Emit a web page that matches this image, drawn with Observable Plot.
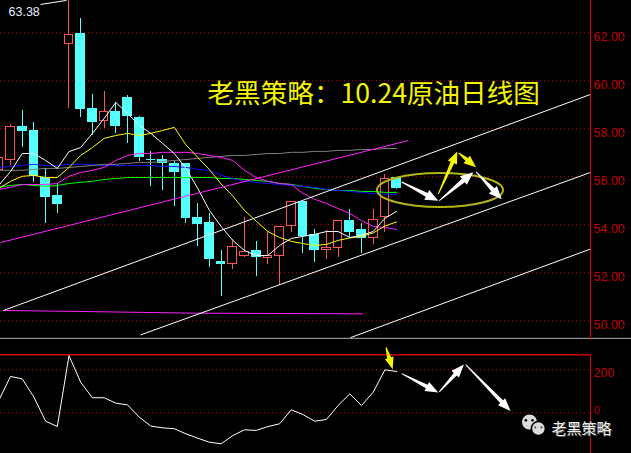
<!DOCTYPE html>
<html><head><meta charset="utf-8">
<script src="https://cdn.jsdelivr.net/npm/d3@7"></script>
<script src="https://cdn.jsdelivr.net/npm/@observablehq/plot@0.6"></script>
<style>
html,body{margin:0;padding:0;background:#000;overflow:hidden;width:631px;height:453px;}
#chart svg{display:block;}
</style></head><body><div id="chart"></div>
<script>
// ---- data ----
const dayIndex = [-1,0,1,2,3,4,5,6,7,8,9,10,11,12,13,14,15,16,17,18,19,20,21,22,23,24,25,26,27,28,29,30,31,32,33];
const openP  = [56.27,56.72,58.06,57.89,55.97,55.18,61.52,61.97,58.81,58.31,58.68,59.27,58.43,56.72,56.72,56.52,56.52,54.27,54.06,52.47,52.35,52.68,52.89,52.60,52.68,53.93,54.93,53.56,52.93,53.02,54.14,53.77,53.47,54.31,55.93];
const highP  = [56.89,58.18,58.77,58.27,56.35,55.72,63.38,62.60,59.43,59.56,59.10,59.39,58.52,57.06,56.89,56.64,56.56,54.89,54.47,52.93,53.39,54.31,53.31,53.72,53.93,54.97,54.97,53.81,53.77,54.18,54.64,54.06,54.64,56.10,55.93];
const lowP   = [56.18,56.47,57.22,55.77,54.06,54.47,58.85,58.47,57.72,58.02,57.81,57.39,56.64,55.60,55.43,54.77,54.06,53.10,52.22,51.02,52.14,52.64,51.85,52.35,51.47,53.68,52.81,52.43,52.56,52.64,53.47,52.81,53.18,53.68,55.47];
const closeP = [56.77,58.06,57.89,56.02,55.14,54.85,61.89,58.81,58.27,58.68,58.10,58.52,56.81,56.68,56.56,56.22,54.27,54.02,52.56,52.35,53.06,52.85,52.64,52.68,53.89,54.93,53.52,52.93,53.02,54.14,53.72,53.47,54.18,55.89,55.52];
const maWhite   = [55.64,56.22,56.97,56.97,56.68,56.35,57.05,57.22,57.81,58.43,59.10,58.64,58.14,57.81,57.39,56.97,56.35,55.52,54.60,53.93,53.35,52.93,52.72,52.72,53.14,53.43,53.52,53.60,53.72,53.72,53.47,53.56,53.72,54.27,54.56];
const maYellow  = [55.52,55.81,56.02,56.06,55.97,55.97,56.39,56.89,57.22,57.60,57.72,57.81,57.72,57.81,57.93,58.06,57.33,56.81,56.30,55.70,55.20,54.60,54.15,53.72,53.47,53.31,53.22,53.14,53.18,53.35,53.45,53.52,53.66,53.95,54.12];
const maMagenta = [55.47,55.56,55.68,55.68,55.68,55.72,56.02,56.18,56.27,56.39,56.68,56.89,56.97,56.97,57.02,57.02,57.02,56.97,56.89,56.81,56.68,56.27,55.97,55.81,55.72,55.68,55.31,55.06,54.89,54.68,54.47,54.18,53.93,53.89,53.81];
const maGray    = [56.27,56.27,56.27,56.31,56.35,56.35,56.39,56.43,56.47,56.52,56.52,56.56,56.60,56.60,56.64,56.68,56.72,56.77,56.81,56.85,56.89,56.89,56.93,56.97,56.97,57.02,57.02,57.06,57.06,57.10,57.10,57.14,57.14,57.18,57.18];
const maBlue    = [56.39,56.43,56.47,56.52,56.47,56.47,56.52,56.52,56.52,56.47,56.47,56.47,56.47,56.47,56.43,56.43,56.39,56.31,56.27,56.06,55.93,55.81,55.77,55.72,55.68,55.64,55.60,55.56,55.47,55.43,55.39,55.35,55.31,55.27,55.27];
const maGreen   = [55.56,55.64,55.68,55.64,55.60,55.64,55.72,55.77,55.81,55.89,55.93,55.97,55.97,55.97,55.97,55.97,55.97,55.97,55.97,55.93,55.93,55.89,55.85,55.81,55.72,55.68,55.60,55.52,55.47,55.43,55.43,55.39,55.39,55.35,55.35];
const cciValues = [58,169,158,73,-39,-64,266,142,70,70,45,37,-20,-62,-70,-74,-98,-118,-137,-144,-106,-79,-82,-64,-51,14,-8,-39,-31,34,88,34,96,200,192];

const priceTicks = [50,52,54,56,58,60,62];
const cciTicks = [0,200];
const cciTop = 270;
const highLabel = "63.38";
const titleText = "老黑策略：10.24原油日线图";
const brandText = "老黑策略";

// hand-drawn annotations, in data units (day index, price / indicator value)
const trendLinesWhite = [
  {x1:-0.60, y1:50.43, x2:49.57, y2:59.43},
  {x1:11.11, y1:49.41, x2:49.57, y2:56.18},
  {x1:29.06, y1:49.30, x2:49.57, y2:52.99},
  {x1:2.56,  y1:63.18, x2:4.79,  y2:63.35}
];
const trendLineMagenta = [{x1:-0.855, y1:53.26, x2:34.0, y2:57.51}];
const flatLineX = [-0.6, 5.73, 15.38, 25.04, 30.09];
const flatLineY = [50.43, 50.39, 50.32, 50.30, 50.29];
const arrowsWhiteMain = [
  {x1:33.48, y1:55.76, x2:36.61, y2:54.98},
  {x1:36.69, y1:54.99, x2:39.60, y2:56.17},
  {x1:39.83, y1:56.19, x2:42.03, y2:55.04}
];
const arrowsYellowMain = [
  {x1:36.61, y1:55.26, x2:38.23, y2:57.03},
  {x1:38.35, y1:56.98, x2:39.83, y2:56.38}
];
const ellipseBox = {x1:31.37, x2:42.14, y1:56.14, y2:54.72};
const arrowsWhiteCci = [
  {x1:33.48, y1:180, x2:36.61, y2:92},
  {x1:36.69, y1:95,  x2:38.80, y2:222},
  {x1:38.95, y1:222, x2:42.79, y2:6}
];
const arrowsYellowCci = [{x1:32.14, y1:302, x2:32.71, y2:200}];

// ---- build ----
const rows = dayIndex.map((d,k)=>({i:d, open:openP[k], high:highP[k], low:lowP[k], close:closeP[k],
  w:maWhite[k], yl:maYellow[k], m:maMagenta[k], g:maGray[k], b:maBlue[k], gr:maGreen[k], cci:cciValues[k]}));
const UP = "#ff5454", DOWN = "#54ffff";
const isUp = d => d.close >= d.open;
const xDomain = [-0.8547, 49.573];

function arrowMark(list, color, head, headW, shaftW) {
  return (index, scales) => {
    const g = d3.create("svg:g");
    for (const a of list) {
      const x1 = scales.x(a.x1), y1 = scales.y(a.y1), x2 = scales.x(a.x2), y2 = scales.y(a.y2);
      const dx = x2-x1, dy = y2-y1, L = Math.hypot(dx,dy), ux = dx/L, uy = dy/L, nx = -uy, ny = ux;
      const bx = x2-ux*head, by = y2-uy*head, tw = 0.5;
      const pts = [[x1+nx*tw,y1+ny*tw],[bx+nx*shaftW,by+ny*shaftW],[bx+nx*headW,by+ny*headW],[x2,y2],
                   [bx-nx*headW,by-ny*headW],[bx-nx*shaftW,by-ny*shaftW],[x1-nx*tw,y1-ny*tw]];
      g.append("polygon").attr("points", pts.map(p=>p[0].toFixed(2)+","+p[1].toFixed(2)).join(" ")).attr("fill", color);
    }
    return g.node();
  };
}
function ellipseMark(e, color) {
  return (index, scales) => {
    const sx = scales.x, sy = scales.y;
    return d3.create("svg:ellipse")
      .attr("cx", (sx(e.x1)+sx(e.x2))/2).attr("cy", (sy(e.y1)+sy(e.y2))/2)
      .attr("rx", Math.abs(sx(e.x2)-sx(e.x1))/2).attr("ry", Math.abs(sy(e.y2)-sy(e.y1))/2)
      .attr("fill","none").attr("stroke",color).attr("stroke-width",2).node();
  };
}

const maLine = (key, color) => Plot.line(rows, {x:"i", y:key, stroke:color, strokeWidth:1});

const main = Plot.plot({
  width:631, height:340, marginTop:0, marginBottom:0, marginLeft:0, marginRight:41,
  x:{domain:xDomain, axis:null}, y:{domain:[49.179, 63.346], axis:null},
  color:{type:"identity"},
  style:{background:"#000", overflow:"hidden"},
  marks:[
    Plot.ruleY(priceTicks, {stroke:"#d00000", strokeDasharray:"1,3", strokeWidth:1}),
    Plot.ruleY([49.27], {x1:xDomain[0], x2:53.2, stroke:"#b4b4b4"}),
    Plot.ruleX(rows, {x:"i", y1:"low", y2:"high", stroke:d=>isUp(d)?UP:DOWN, strokeWidth:1, shapeRendering:"crispEdges"}),
    Plot.rect(rows, {x1:d=>d.i-0.37, x2:d=>d.i+0.37, y1:"open", y2:"close",
      fill:d=>isUp(d)?"#000":DOWN, stroke:d=>isUp(d)?UP:DOWN, strokeWidth:1, shapeRendering:"crispEdges"}),
    maLine("gr","#00ff00"),
    maLine("b","#1010ff"),
    maLine("g","#808080"),
    maLine("m","#ff22ff"),
    maLine("yl","#ffff00"),
    maLine("w","#ffffff"),
    Plot.line(flatLineX.map((x,k)=>({x, y:flatLineY[k]})), {x:"x", y:"y", stroke:"#ff22ff", strokeWidth:1}),
    Plot.link(trendLineMagenta, {x1:"x1", y1:"y1", x2:"x2", y2:"y2", stroke:"#ff22ff", strokeWidth:1}),
    Plot.link(trendLinesWhite, {x1:"x1", y1:"y1", x2:"x2", y2:"y2", stroke:"#ffffff", strokeWidth:1}),
    Plot.ruleX([xDomain[1]], {stroke:"#d40000", strokeWidth:1}),
    Plot.text(priceTicks, {y:d=>d, frameAnchor:"right", text:d=>d.toFixed(2), textAnchor:"start", dx:3, dy:4,
      fill:"#c00000", fontSize:12.5, fontFamily:"Liberation Sans"}),
    Plot.text([highLabel], {x:-0.17, y:62.85, text:d=>d, textAnchor:"start", fill:"#e6efff", fontSize:12.5, fontFamily:"Liberation Sans"}),
    Plot.text([titleText], {x:16.84, y:59.41, text:d=>d, textAnchor:"start", fill:"#f5f500", fontSize:26.6, fontFamily:"Noto Sans CJK SC"}),
    ellipseMark(ellipseBox, "#b4b412"),
    arrowMark(arrowsWhiteMain, "#ffffff", 13, 5.5, 2.2),
    arrowMark(arrowsYellowMain, "#f5f500", 12, 5, 2)
  ]
});

const lower = Plot.plot({
  width:631, height:113, marginTop:0, marginBottom:0, marginLeft:0, marginRight:41,
  x:{domain:xDomain, axis:null}, y:{domain:[-189.3, 336.3], axis:null},
  style:{background:"#000", overflow:"hidden"},
  marks:[
    Plot.ruleY(cciTicks, {stroke:"#d00000", strokeDasharray:"1,3", strokeWidth:1}),
    Plot.ruleY([cciTop], {stroke:"#d40000", strokeWidth:1.3}),
    Plot.ruleX([xDomain[1]], {y1:cciTop, y2:-189.3, stroke:"#d40000", strokeWidth:1}),
    Plot.line(rows, {x:"i", y:"cci", stroke:"#ffffff", strokeWidth:1}),
    Plot.text([200], {y:d=>d, frameAnchor:"right", text:d=>String(d), textAnchor:"start", dx:3, dy:3,
      fill:"#c00000", fontSize:12.5, fontFamily:"Liberation Sans"}),
    Plot.text([0], {y:d=>d, frameAnchor:"right", text:d=>String(d), textAnchor:"start", dx:3.5, dy:-2.5,
      fill:"#c00000", fontSize:10.5, fontFamily:"Liberation Sans"}),
    arrowMark(arrowsWhiteCci, "#ffffff", 13, 5, 2),
    arrowMark(arrowsYellowCci, "#f5f500", 12, 4.5, 2.2),
    Plot.dot([{x:44.36, y:-43}], {x:"x", y:"y", r:8, fill:"#dcdcdc", stroke:"#000", strokeWidth:1}),
    Plot.dot([{x:45.12, y:-73}], {x:"x", y:"y", r:7, fill:"#dcdcdc", stroke:"#000", strokeWidth:1.5}),
    Plot.dot([{x:44.05,y:-35},{x:44.62,y:-35}], {x:"x", y:"y", r:1.3, fill:"#000"}),
    Plot.dot([{x:44.85,y:-68},{x:45.38,y:-68}], {x:"x", y:"y", r:1.1, fill:"#555"}),
    Plot.text([brandText], {x:46.24, y:-78, text:d=>d, textAnchor:"start", dx:1, dy:1, fill:"#555", fontSize:15, fontFamily:"Noto Sans CJK SC"}),
    Plot.text([brandText], {x:46.24, y:-78, text:d=>d, textAnchor:"start", fill:"#f0f0f0", fontSize:15, fontFamily:"Noto Sans CJK SC"})
  ]
});

document.getElementById("chart").append(main, lower);
</script></body></html>
